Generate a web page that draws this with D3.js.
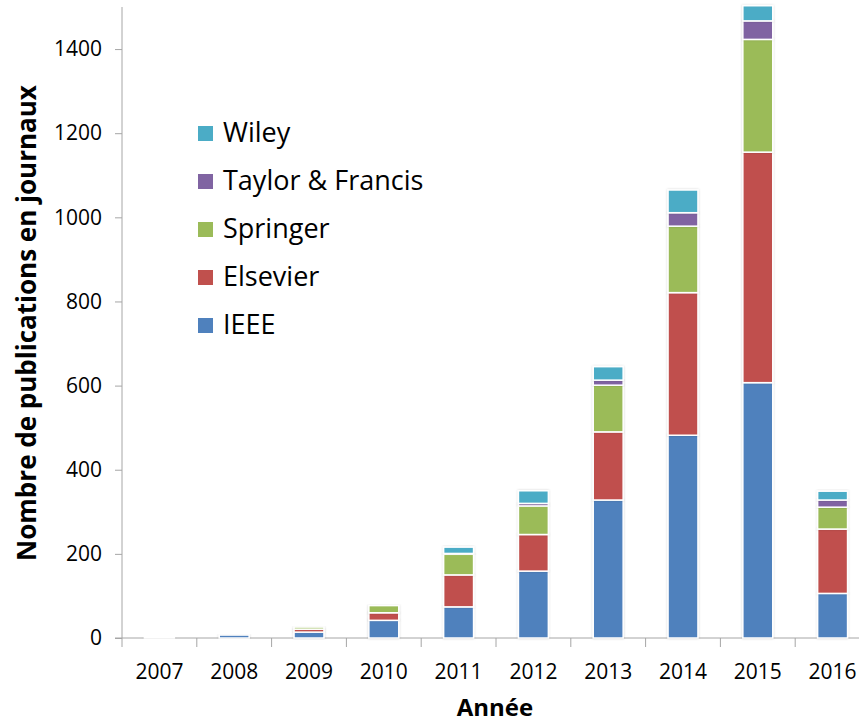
<!DOCTYPE html>
<html>
<head>
<meta charset="utf-8">
<script src="https://cdn.jsdelivr.net/npm/d3@7"></script>
<style>
  body { margin: 0; background: #fff; }
  text { font-family: "Open Sans", "Noto Sans", sans-serif; fill: #000; }
</style>
</head>
<body>
<div id="chart"></div>
<script>
const years = ["2007", "2008", "2009", "2010", "2011", "2012", "2013", "2014", "2015", "2016"];
const publishers = ["IEEE", "Elsevier", "Springer", "Taylor & Francis", "Wiley"];
const ieee = [1, 7, 14, 42, 74, 159, 328, 482, 607, 106];
const elsevier = [0, 0, 7, 18, 76, 87, 162, 339, 548, 153];
const springer = [0, 0, 5, 17, 49, 68, 111, 158, 268, 52];
const taylorFrancis = [0, 0, 0, 0, 2, 6, 12, 32, 44, 17];
const wiley = [0, 0, 0, 0, 15, 30, 32, 54, 36, 21];
const yTicks = [0, 200, 400, 600, 800, 1000, 1200, 1400];

const colors = d3.scaleOrdinal()
    .domain(publishers)
    .range(["#4f81bd", "#c0504d", "#9bbb59", "#8064a2", "#4bacc6"]);

const width = 859;
const height = 722;

const svg = d3.select("#chart")
    .append("svg")
    .attr("width", width)
    .attr("height", height);

// soft shadow round the bars
const defs = svg.append("defs");
defs.append("filter")
    .attr("id", "glow")
    .attr("x", "-20%").attr("y", "-20%")
    .attr("width", "140%").attr("height", "140%")
    .append("feDropShadow")
    .attr("dx", 0).attr("dy", 0)
    .attr("stdDeviation", 1.2)
    .attr("flood-color", "#000")
    .attr("flood-opacity", 0.18);

const table = years.map((y, i) => ({
    year: y,
    "IEEE": ieee[i],
    "Elsevier": elsevier[i],
    "Springer": springer[i],
    "Taylor & Francis": taylorFrancis[i],
    "Wiley": wiley[i]
}));

const series = d3.stack().keys(publishers)(table);

const x = d3.scaleBand()
    .domain(years)
    .range([122, 870])
    .paddingInner(0.6)
    .paddingOuter(0.3);

const y = d3.scaleLinear()
    .domain([0, 1500])
    .range([638, 7]);

// axes
const axisColor = "#a6a6a6";

const yAxis = svg.append("g")
    .attr("transform", "translate(122,0)")
    .call(d3.axisLeft(y).tickValues(yTicks).tickFormat(d3.format("d")).tickSize(7).tickPadding(13));
yAxis.select(".domain").attr("stroke", axisColor).attr("d", "M0,638V7");
yAxis.selectAll(".tick line").attr("stroke", axisColor);
yAxis.selectAll(".tick text")
    .style("font-size", "21px")
    .attr("fill", "#000");

const xAxis = svg.append("g")
    .attr("transform", "translate(0,638)")
    .call(d3.axisBottom(x).tickSize(0).tickPadding(26));
xAxis.select(".domain").attr("stroke", axisColor).attr("d", "M115,0H859");
xAxis.selectAll(".tick text")
    .style("font-size", "21px")
    .attr("fill", "#000");

// tick marks between categories
const boundaries = years.map((yr) => x(yr) - x.step() * x.paddingInner() / 2);
xAxis.selectAll(".sep")
    .data(boundaries)
    .enter()
    .append("line")
    .attr("x1", (d) => d)
    .attr("x2", (d) => d)
    .attr("y1", 0)
    .attr("y2", 9)
    .attr("stroke", axisColor);

// bars
svg.append("g")
    .selectAll("g")
    .data(series)
    .enter()
    .append("g")
    .attr("fill", (d) => colors(d.key))
    .selectAll("rect")
    .data((d) => d.filter((p) => p[1] - p[0] > 0))
    .enter()
    .append("rect")
    .attr("x", (d) => x(d.data.year))
    .attr("y", (d) => y(d[1]))
    .attr("width", x.bandwidth())
    .attr("height", (d) => y(d[0]) - y(d[1]))
    .attr("stroke", "#fff")
    .attr("stroke-width", 1.5)
    .attr("filter", "url(#glow)");

// axis titles
svg.append("text")
    .attr("x", 495)
    .attr("y", 716)
    .style("text-anchor", "middle")
    .style("font-size", "24px")
    .style("font-weight", "bold")
    .text("Année");

svg.append("text")
    .attr("transform", "translate(36,323) rotate(-90)")
    .style("text-anchor", "middle")
    .style("font-size", "26px")
    .style("font-weight", "bold")
    .text("Nombre de publications en journaux");

// legend
const legend = svg.append("g")
    .attr("transform", "translate(198,133)");

publishers.slice().reverse().forEach((p, i) => {
    legend.append("rect")
        .attr("x", 0)
        .attr("y", i * 48 - 7)
        .attr("width", 15)
        .attr("height", 15)
        .attr("fill", colors(p));

    legend.append("text")
        .attr("x", 25)
        .attr("y", i * 48)
        .attr("dy", "0.35em")
        .style("font-size", "27px")
        .text(p);
});
</script>
</body>
</html>
